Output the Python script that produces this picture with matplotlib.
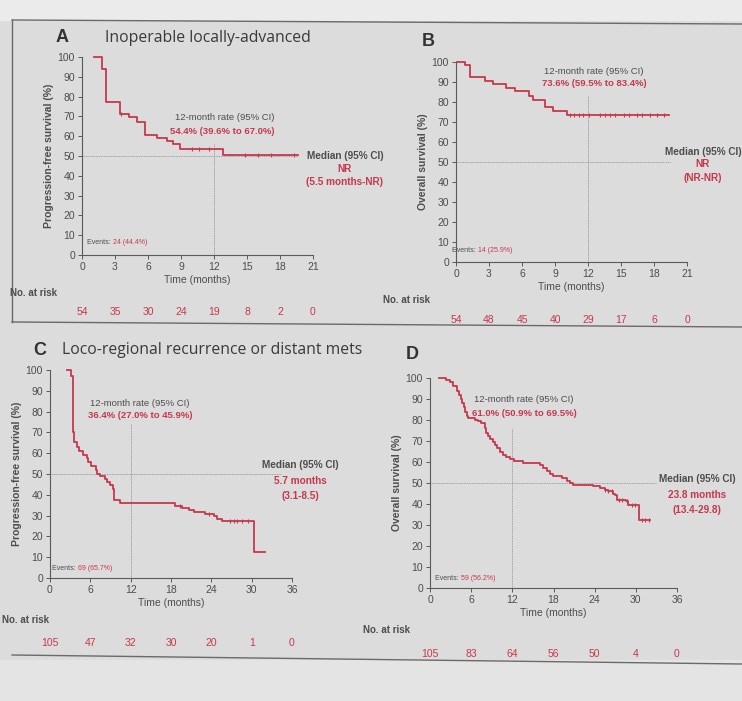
import numpy as np
import matplotlib
matplotlib.use("Agg")
import matplotlib.pyplot as plt
from matplotlib.lines import Line2D
from matplotlib.patches import Rectangle
from matplotlib.transforms import blended_transform_factory

plt.rcParams['font.family'] = ['Liberation Sans', 'DejaVu Sans']

W, H = 742, 701
RED = "#c8374c"
GREY = "#4d4d4d"
AXC = "#5a5a5a"

# --- A: PFS, inoperable locally-advanced (n=54)
a_time = [1.06, 1.81, 2.21, 3.41, 4.23, 4.98, 5.74, 6.80, 7.70, 8.31, 8.91, 12.78, 19.64]
a_surv = [100, 94.1, 77.1, 71.2, 69.5, 67.0, 60.7, 59.2, 57.7, 56.3, 53.7, 50.3, 50.3]
a_cens = [3.5, 9.97, 10.6, 11.5, 14.8, 16.0, 17.2, 19.3]
a_risk = [54, 35, 30, 24, 19, 8, 2, 0]

# --- B: OS, inoperable locally-advanced (n=54)
b_time = [0.12, 0.82, 1.27, 2.64, 3.40, 4.55, 5.37, 6.68, 7.04, 8.10, 8.86, 10.08, 19.33]
b_surv = [100, 98.7, 92.5, 90.7, 89.0, 87.0, 85.3, 83.2, 81.2, 77.5, 75.3, 73.4, 73.4]
b_cens = [10.38, 10.74, 11.14, 11.59, 12.05, 13.11, 13.57, 14.02, 14.48,
          15.23, 15.69, 16.45, 16.90, 17.66, 18.27, 18.9]
b_risk = [54, 48, 45, 40, 29, 17, 6, 0]

# --- C: PFS, loco-regional recurrence or distant mets (n=105)
c_time = [2.48, 3.13, 3.38, 3.58, 3.97, 4.37, 4.87, 5.56, 5.71, 6.06, 6.85, 7.05,
          7.45, 8.19, 8.54, 8.94, 9.33, 9.53, 10.43, 18.62, 19.61, 20.61, 21.35,
          23.09, 24.33, 24.83, 25.57, 30.29, 32.03]
c_surv = [100, 97, 70, 65.5, 63, 61, 59, 57.5, 56, 54, 52, 50, 49, 47.5, 46, 44.6,
          43, 37.4, 36.1, 34.8, 33.7, 32.9, 31.8, 31.0, 30.0, 28.6, 27.4, 12.5, 12.5]
c_cens = [19.4, 23.6, 26.8, 27.3, 27.8, 28.5, 29.5]
c_risk = [105, 47, 32, 30, 20, 1, 0]

# --- D: OS, loco-regional recurrence or distant mets (n=105)
d_time = [1.36, 2.4, 2.9, 3.4, 3.9, 4.2, 4.5, 4.7, 4.9, 5.1, 5.35, 5.6, 6.6, 7.0,
          7.5, 8.0, 8.2, 8.5, 8.8, 9.2, 9.5, 9.8, 10.2, 10.6, 11.1, 11.7, 12.3,
          13.6, 16.1, 16.4, 17.0, 17.5, 17.9, 19.2, 19.9, 20.4, 20.9, 23.8, 24.8,
          25.5, 25.9, 26.6, 26.9, 27.3, 28.5, 28.9, 30.4, 32.1]
d_surv = [100, 99, 98, 96, 94, 92, 90, 88, 86, 84, 82, 81, 80, 79.4, 78.6, 76.2,
          74, 72.2, 71, 69.5, 68, 66.5, 64.8, 63.5, 62.5, 61.5, 60.6, 59.5, 58.5,
          57, 55.6, 54.5, 53.3, 52.3, 51, 50, 49.2, 48.4, 47.6, 46.8, 46, 45, 44.2,
          42.1, 41.3, 39.7, 32.5, 32.5]
d_cens = [25.5, 26.0, 26.5, 27.5, 28.0, 28.7, 29.4, 29.9, 30.9, 31.4, 31.9]
d_risk = [105, 83, 64, 56, 50, 4, 0]


def fx(x):
    return x / W


def fy(y):
    return 1 - y / H


def panel(fig, box, time, surv, cens, xmax, xstep, ylabel, hline_end, vline_top):
    l, t, r, b = box
    ax = fig.add_axes([fx(l), fy(b), (r - l) / W, (b - t) / H])
    ax.patch.set_alpha(0)
    ax.set_xlim(0, xmax)
    ax.set_ylim(0, 100)
    ax.set_xticks(np.arange(0, xmax + 1, xstep))
    ax.set_yticks(np.arange(0, 101, 10))
    for s in ("top", "right"):
        ax.spines[s].set_visible(False)
    for s in ("left", "bottom"):
        ax.spines[s].set_color(AXC)
        ax.spines[s].set_linewidth(0.8)
    ax.tick_params(direction="out", length=3, width=0.7, color=AXC,
                   labelsize=7.5, labelcolor=GREY, pad=2)
    # reference lines: median (50%) and 12 months
    ax.plot([0, hline_end], [50, 50], color="#8a8a8a", lw=0.6, ls=(0, (1, 1)))
    ax.plot([12, 12], [0, vline_top], color="#8a8a8a", lw=0.6, ls=(0, (1, 1)))
    ax.step(time, surv, where="post", color=RED, lw=1.3, clip_on=False, zorder=3)
    idx = np.searchsorted(time, cens, side="right") - 1
    ax.plot(cens, np.asarray(surv)[idx], ls="none", marker="|", ms=3.5, mew=0.8,
            color=RED, zorder=4)
    ax.set_xlabel("Time (months)", fontsize=7.5, color=GREY, labelpad=2)
    ax.set_ylabel(ylabel, fontsize=7.5, color=GREY, fontweight="bold", labelpad=3)
    return ax


def risk_row(fig, ax, values, xmax, xstep, ypx):
    tr = blended_transform_factory(ax.transData, fig.transFigure)
    for x, v in zip(np.arange(0, xmax + 1, xstep), values):
        ax.text(x, fy(ypx), str(v), transform=tr, ha="center", va="center",
                fontsize=7.5, color=RED, clip_on=False)


def note(fig, x, y, s, color=GREY, size=6.8, weight="normal", ha="center"):
    fig.text(fx(x), fy(y), s, ha=ha, va="center", fontsize=size, color=color,
             fontweight=weight)


def events(fig, x, y, count):
    t1 = fig.text(fx(x), fy(y), "Events: ", ha="left", va="center", fontsize=5,
                  color=GREY)
    fig.canvas.draw()
    bb = t1.get_window_extent()
    fig.text(bb.x1 / W, fy(y), count, ha="left", va="center", fontsize=5, color=RED)


fig = plt.figure(figsize=(W / 100, H / 100), dpi=100, facecolor="#dcdcdc")

# slide background bands
fig.add_artist(Rectangle((0, fy(20)), 1, 20 / H, transform=fig.transFigure,
                         color="#ebebeb", zorder=0))
fig.add_artist(Rectangle((0, 0), 1, fy(660), transform=fig.transFigure,
                         color="#e4e4e4", zorder=0))
for (x0, y0, x1, y1) in [(12, 20, 742, 24), (12, 322, 742, 327), (12, 655, 742, 664),
                         (12, 20, 12, 322)]:
    fig.add_artist(Line2D([fx(x0), fx(x1)], [fy(y0), fy(y1)], color="#6a6a6a", lw=1.0))

axA = panel(fig, (82, 57, 313, 255), a_time, a_surv, a_cens, 21, 3,
            "Progression-free survival (%)", 19.6, 56)
axB = panel(fig, (456, 62, 687, 262), b_time, b_surv, b_cens, 21, 3,
            "Overall survival (%)", 19.5, 83)
axC = panel(fig, (50, 370, 292, 578), c_time, c_surv, c_cens, 36, 6,
            "Progression-free survival (%)", 34.3, 74)
axD = panel(fig, (430, 378, 677, 588), d_time, d_surv, d_cens, 36, 6,
            "Overall survival (%)", 33.0, 76)

# panel letters and titles
fig.text(fx(62), fy(38), "A", fontsize=13, fontweight="bold", color="#333", ha="center", va="center")
fig.text(fx(105), fy(38), "Inoperable locally-advanced", fontsize=11.3, color="#3a3a3a",
         ha="left", va="center", family="Open Sans")
fig.text(fx(428), fy(42), "B", fontsize=13, fontweight="bold", color="#333", ha="center", va="center")
fig.text(fx(40), fy(350), "C", fontsize=13, fontweight="bold", color="#333", ha="center", va="center")
fig.text(fx(62), fy(350), "Loco-regional recurrence or distant mets", fontsize=11.3,
         color="#3a3a3a", ha="left", va="center", family="Open Sans")
fig.text(fx(412), fy(354), "D", fontsize=13, fontweight="bold", color="#333", ha="center", va="center")

# 12-month rate and median annotations
note(fig, 225, 118, "12-month rate (95% CI)")
note(fig, 222, 131, "54.4% (39.6% to 67.0%)", RED, weight="bold")
note(fig, 345, 156, "Median (95% CI)", weight="bold", size=7.2)
note(fig, 345, 169, "NR", RED, weight="bold", size=7.2)
note(fig, 345, 182, "(5.5 months-NR)", RED, weight="bold", size=7.2)

note(fig, 594, 72, "12-month rate (95% CI)")
note(fig, 594, 84, "73.6% (59.5% to 83.4%)", RED, weight="bold")
note(fig, 703, 152, "Median (95% CI)", weight="bold", size=7.2)
note(fig, 703, 164, "NR", RED, weight="bold", size=7.2)
note(fig, 703, 178, "(NR-NR)", RED, weight="bold", size=7.2)

note(fig, 140, 403, "12-month rate (95% CI)")
note(fig, 140, 415, "36.4% (27.0% to 45.9%)", RED, weight="bold")
note(fig, 300, 465, "Median (95% CI)", weight="bold", size=7.2)
note(fig, 300, 481, "5.7 months", RED, weight="bold", size=7.2)
note(fig, 300, 496, "(3.1-8.5)", RED, weight="bold", size=7.2)

note(fig, 524, 400, "12-month rate (95% CI)")
note(fig, 524, 413, "61.0% (50.9% to 69.5%)", RED, weight="bold")
note(fig, 697, 479, "Median (95% CI)", weight="bold", size=7.2)
note(fig, 697, 495, "23.8 months", RED, weight="bold", size=7.2)
note(fig, 697, 510, "(13.4-29.8)", RED, weight="bold", size=7.2)

events(fig, 87, 243, "24 (44.4%)")
events(fig, 452, 250, "14 (25.9%)")
events(fig, 52, 569, "69 (65.7%)")
events(fig, 435, 579, "59 (56.2%)")

# numbers at risk
note(fig, 10, 293, "No. at risk", weight="bold", size=7, ha="left")
note(fig, 383, 300, "No. at risk", weight="bold", size=7, ha="left")
note(fig, 2, 620, "No. at risk", weight="bold", size=7, ha="left")
note(fig, 363, 630, "No. at risk", weight="bold", size=7, ha="left")
risk_row(fig, axA, a_risk, 21, 3, 312)
risk_row(fig, axB, b_risk, 21, 3, 320)
risk_row(fig, axC, c_risk, 36, 6, 643)
risk_row(fig, axD, d_risk, 36, 6, 654)

fig.savefig("out.png", dpi=100, facecolor=fig.get_facecolor())
